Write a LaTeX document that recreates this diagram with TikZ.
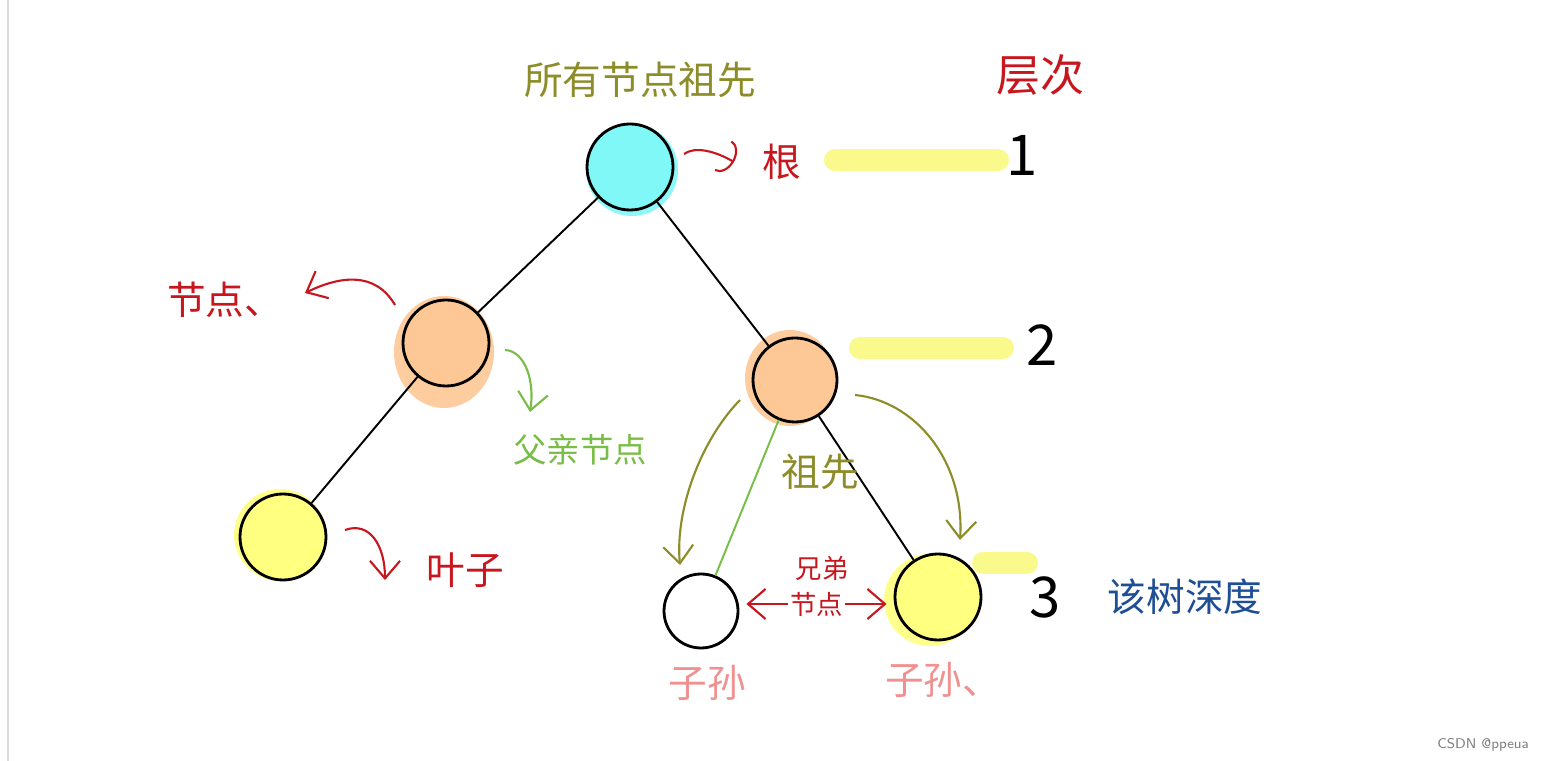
\documentclass[tikz,border=0pt]{standalone}
\usepackage{fontspec,xcolor}
\newfontfamily\cjk{Noto Sans CJK SC}
\usetikzlibrary{arrows.meta,positioning}
\definecolor{rootcyan}{HTML}{80F8F8}
\definecolor{midorange}{HTML}{FDC896}
\definecolor{leafyellow}{HTML}{FFFF80}
\definecolor{hlyellow}{HTML}{FAFA8C}
\definecolor{inkred}{HTML}{C8161E}
\definecolor{inkolive}{HTML}{8C8C28}
\definecolor{inkgreen}{HTML}{78BE46}
\definecolor{inkpink}{HTML}{F09090}
\definecolor{inkblue}{HTML}{1E4E96}
\tikzset{
  tnode/.style={circle,draw,line width=1.6pt,minimum size=1.72cm,inner sep=0pt},
  rootnd/.style={tnode,fill=rootcyan},
  midnd/.style={tnode,fill=midorange},
  leafnd/.style={tnode,fill=leafyellow},
  halo/.style={opacity=0.9},
  edge/.style={line width=1.1pt},
  hlbar/.style={line width=0.44cm,line cap=round,hlyellow},
  harr/.style={-{Straight Barb[length=3.5mm,width=6mm]},line width=1.2pt},
  lbl/.style={font=\cjk\fontsize{22}{26}\selectfont,inner sep=1pt},
  smlbl/.style={font=\cjk\fontsize{15}{17}\selectfont,inner sep=1pt},
  numlbl/.style={font=\cjk\fontsize{32}{36}\selectfont,inner sep=0pt}
}
\begin{document}
\begin{tikzpicture}
  \useasboundingbox[fill=white] (0,0) rectangle (30.92,15.22);
  \draw[gray!30,line width=0.6pt] (0.16,0) -- (0.16,15.22);

  % halos behind the nodes
  \fill[rootcyan,halo] (12.64,11.82) circle (0.92);
  \fill[midorange,halo] (8.88,8.18) ellipse (1.0 and 1.12);
  \fill[midorange,halo] (15.8,7.66) ellipse (0.9 and 0.96);
  \fill[leafyellow,halo] (5.6,4.52) circle (0.92);
  \fill[leafyellow,halo] (18.6,3.22) circle (0.92);

  % level bars
  \draw[hlbar] (16.7,12.02) -- (19.96,12.02);
  \draw[hlbar] (17.2,8.26) -- (20.06,8.26);
  \draw[hlbar] (19.66,3.96) -- (20.54,3.96);

  \node[rootnd] (root) at (12.6,11.88) {};
  \node[midnd] (lmid) at (8.92,8.36) {};
  \node[midnd, minimum size=1.68cm] (rmid) at (15.9,7.62) {};
  \node[leafnd] (leaf) at (5.66,4.48) {};
  \node[tnode, fill=white, minimum size=1.48cm] (wkid) at (14.02,3.0) {};
  \node[leafnd] (ykid) at (18.76,3.28) {};

  \draw[edge] (root) -- (lmid);
  \draw[edge] (lmid) -- (leaf);
  \draw[edge] (root) -- (rmid);
  \draw[edge] (rmid) -- (ykid);
  \draw[edge, inkgreen] (rmid) -- (wkid);

  % labels
  \node[lbl, inkolive] (allanc) at (12.8,13.62) {所有节点祖先};
  \node[lbl, inkred, font=\cjk\fontsize{25}{28}\selectfont] (level) at (20.8,13.72) {层次};
  \node[lbl, inkred] (rootlbl) at (15.64,11.98) {根};
  \node[numlbl] (lvone) at (20.44,12.12) {1};
  \node[numlbl] (lvtwo) at (20.84,8.32) {2};
  \node[numlbl] (lvthree) at (20.9,3.28) {3};
  \node[lbl, inkred] (nodelbl) at (4.5,9.22) {节点、};
  \node[lbl, inkgreen, font=\cjk\fontsize{19}{22}\selectfont] (parlbl) at (11.6,6.22) {父亲节点};
  \node[lbl, inkred] (leaflbl) at (9.3,3.82) {叶子};
  \node[lbl, inkolive] (anclbl) at (16.4,5.78) {祖先};
  \node[smlbl, inkred] (siblbl) at (16.44,3.86) {兄弟};
  \node[lbl, inkpink] (desca) at (14.14,1.56) {子孙};
  \node[lbl, inkpink] (descb) at (18.86,1.62) {子孙、};
  \node[lbl, inkblue] (depthlbl) at (23.7,3.28) {该树深度};
  \node[font=\sffamily\fontsize{8}{10}\selectfont, gray, anchor=east] (mark) at (30.7,0.32) {CSDN @ppeua};

  % free ends of the hand drawn arrows
  \coordinate (ndA) at (7.9,9.12);   \coordinate (ndB) at (6.1,9.36);
  \coordinate (rtA) at (13.68,12.14); \coordinate (rtB) at (14.68,11.98);
  \coordinate (paA) at (10.1,8.22);  \coordinate (paB) at (10.6,6.98);
  \coordinate (lfA) at (6.9,4.62);   \coordinate (lfB) at (7.7,3.62);
  \coordinate (anA) at (14.8,7.22);  \coordinate (anB) at (13.6,3.92);
  \coordinate (anC) at (17.1,7.32);  \coordinate (anD) at (19.2,4.42);

  \draw[harr, inkred] (ndA) .. controls (7.5,9.8) and (6.8,9.7) .. (ndB);
  \draw[inkred, line width=1.2pt, -{Arc Barb[length=2.5mm,width=7mm]}] (rtA) .. controls (13.9,12.3) and (14.3,12.2) .. (rtB);
  \draw[harr, inkgreen] (paA) .. controls (10.5,8.2) and (10.7,7.6) .. (paB);
  \draw[harr, inkred] (lfA) .. controls (7.4,4.8) and (7.7,4.3) .. (lfB);
  \draw[harr, inkolive] (anA) .. controls (14.0,6.4) and (13.5,5.0) .. (anB);
  \draw[harr, inkolive] (anC) .. controls (18.3,7.2) and (19.3,6.0) .. (anD);
  \draw[harr, inkred, {Straight Barb[length=3.5mm,width=6mm]}-{Straight Barb[length=3.5mm,width=6mm]}]
    ([xshift=4pt]wkid.east |- 0,3.14) -- node[smlbl, inkred, fill=white] (sibnode) {节点} ([xshift=-4pt]ykid.west |- 0,3.14);
\end{tikzpicture}
\end{document}
